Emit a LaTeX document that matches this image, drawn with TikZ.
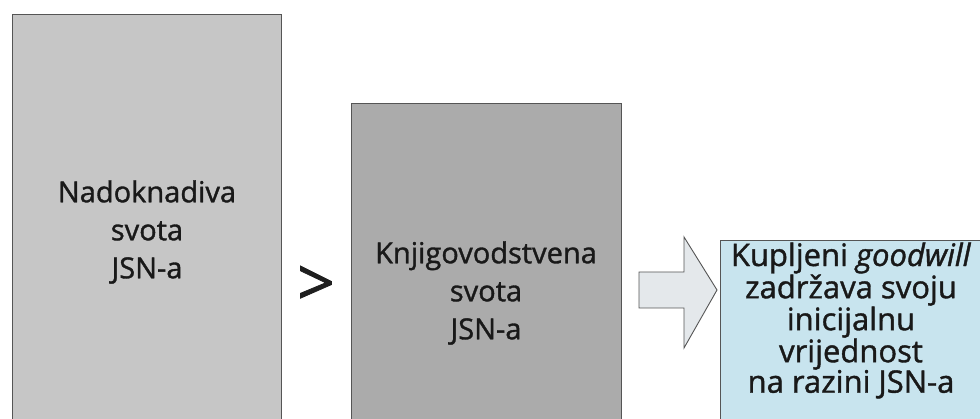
\documentclass[tikz,border=0pt]{standalone}
\usepackage{fontspec}
\setmainfont{Open Sans}
\newfontfamily\semisans{Open Sans}[FakeBold=1.2]
\definecolor{boxA}{HTML}{C6C6C6}
\definecolor{boxB}{HTML}{ABABAB}
\definecolor{boxC}{HTML}{C8E4EE}
\definecolor{arrowfill}{HTML}{E4E8EB}
\definecolor{edge}{HTML}{555555}
\tikzset{
  panel/.style={draw=edge, line width=0.9pt, anchor=north west, inner sep=0pt},
  label/.style={align=center, font=\semisans\fontsize{29}{38}\selectfont, text=black!90},
  labelC/.style={align=center, font=\semisans\fontsize{31}{30.5}\selectfont, text=black!90},
}
\begin{document}
\begin{tikzpicture}[x=1pt,y=1pt]
\useasboundingbox (0,0) rectangle (980,419);
\clip (0,0) rectangle (980,419);
% boxes
\node[panel, fill=boxA, minimum width=269pt, minimum height=420pt] (A) at (12,405) {};
\node[panel, fill=boxB, minimum width=270pt, minimum height=330pt] (B) at (351,316) {};
\node[panel, fill=boxC, minimum width=270pt, minimum height=190pt] (C) at (720,179) {};
% texts
\node[label] (tA) at (147,187) {Nadoknadiva\\svota\\JSN-a};
\node[label] (tB) at (486,126) {Knjigovodstvena\\svota\\JSN-a};
\node[labelC] (tC) at (851,98.5) {Kupljeni \textit{goodwill}\\zadržava svoju\\inicijalnu\\vrijednost\\na razini JSN-a};
% greater-than sign
\node[font=\semisans\fontsize{66}{66}\selectfont, text=black!88, inner sep=0pt] (gt) at (316,133) {>};
% block arrow
\coordinate (tip) at (717,129);
\draw[edge, fill=arrowfill, line width=0.9pt, line join=miter]
  (639,147) -- (684,147) -- (684,182) -- (tip) -- (684,71) -- (684,111) -- (639,111) -- cycle;
\end{tikzpicture}
\end{document}
